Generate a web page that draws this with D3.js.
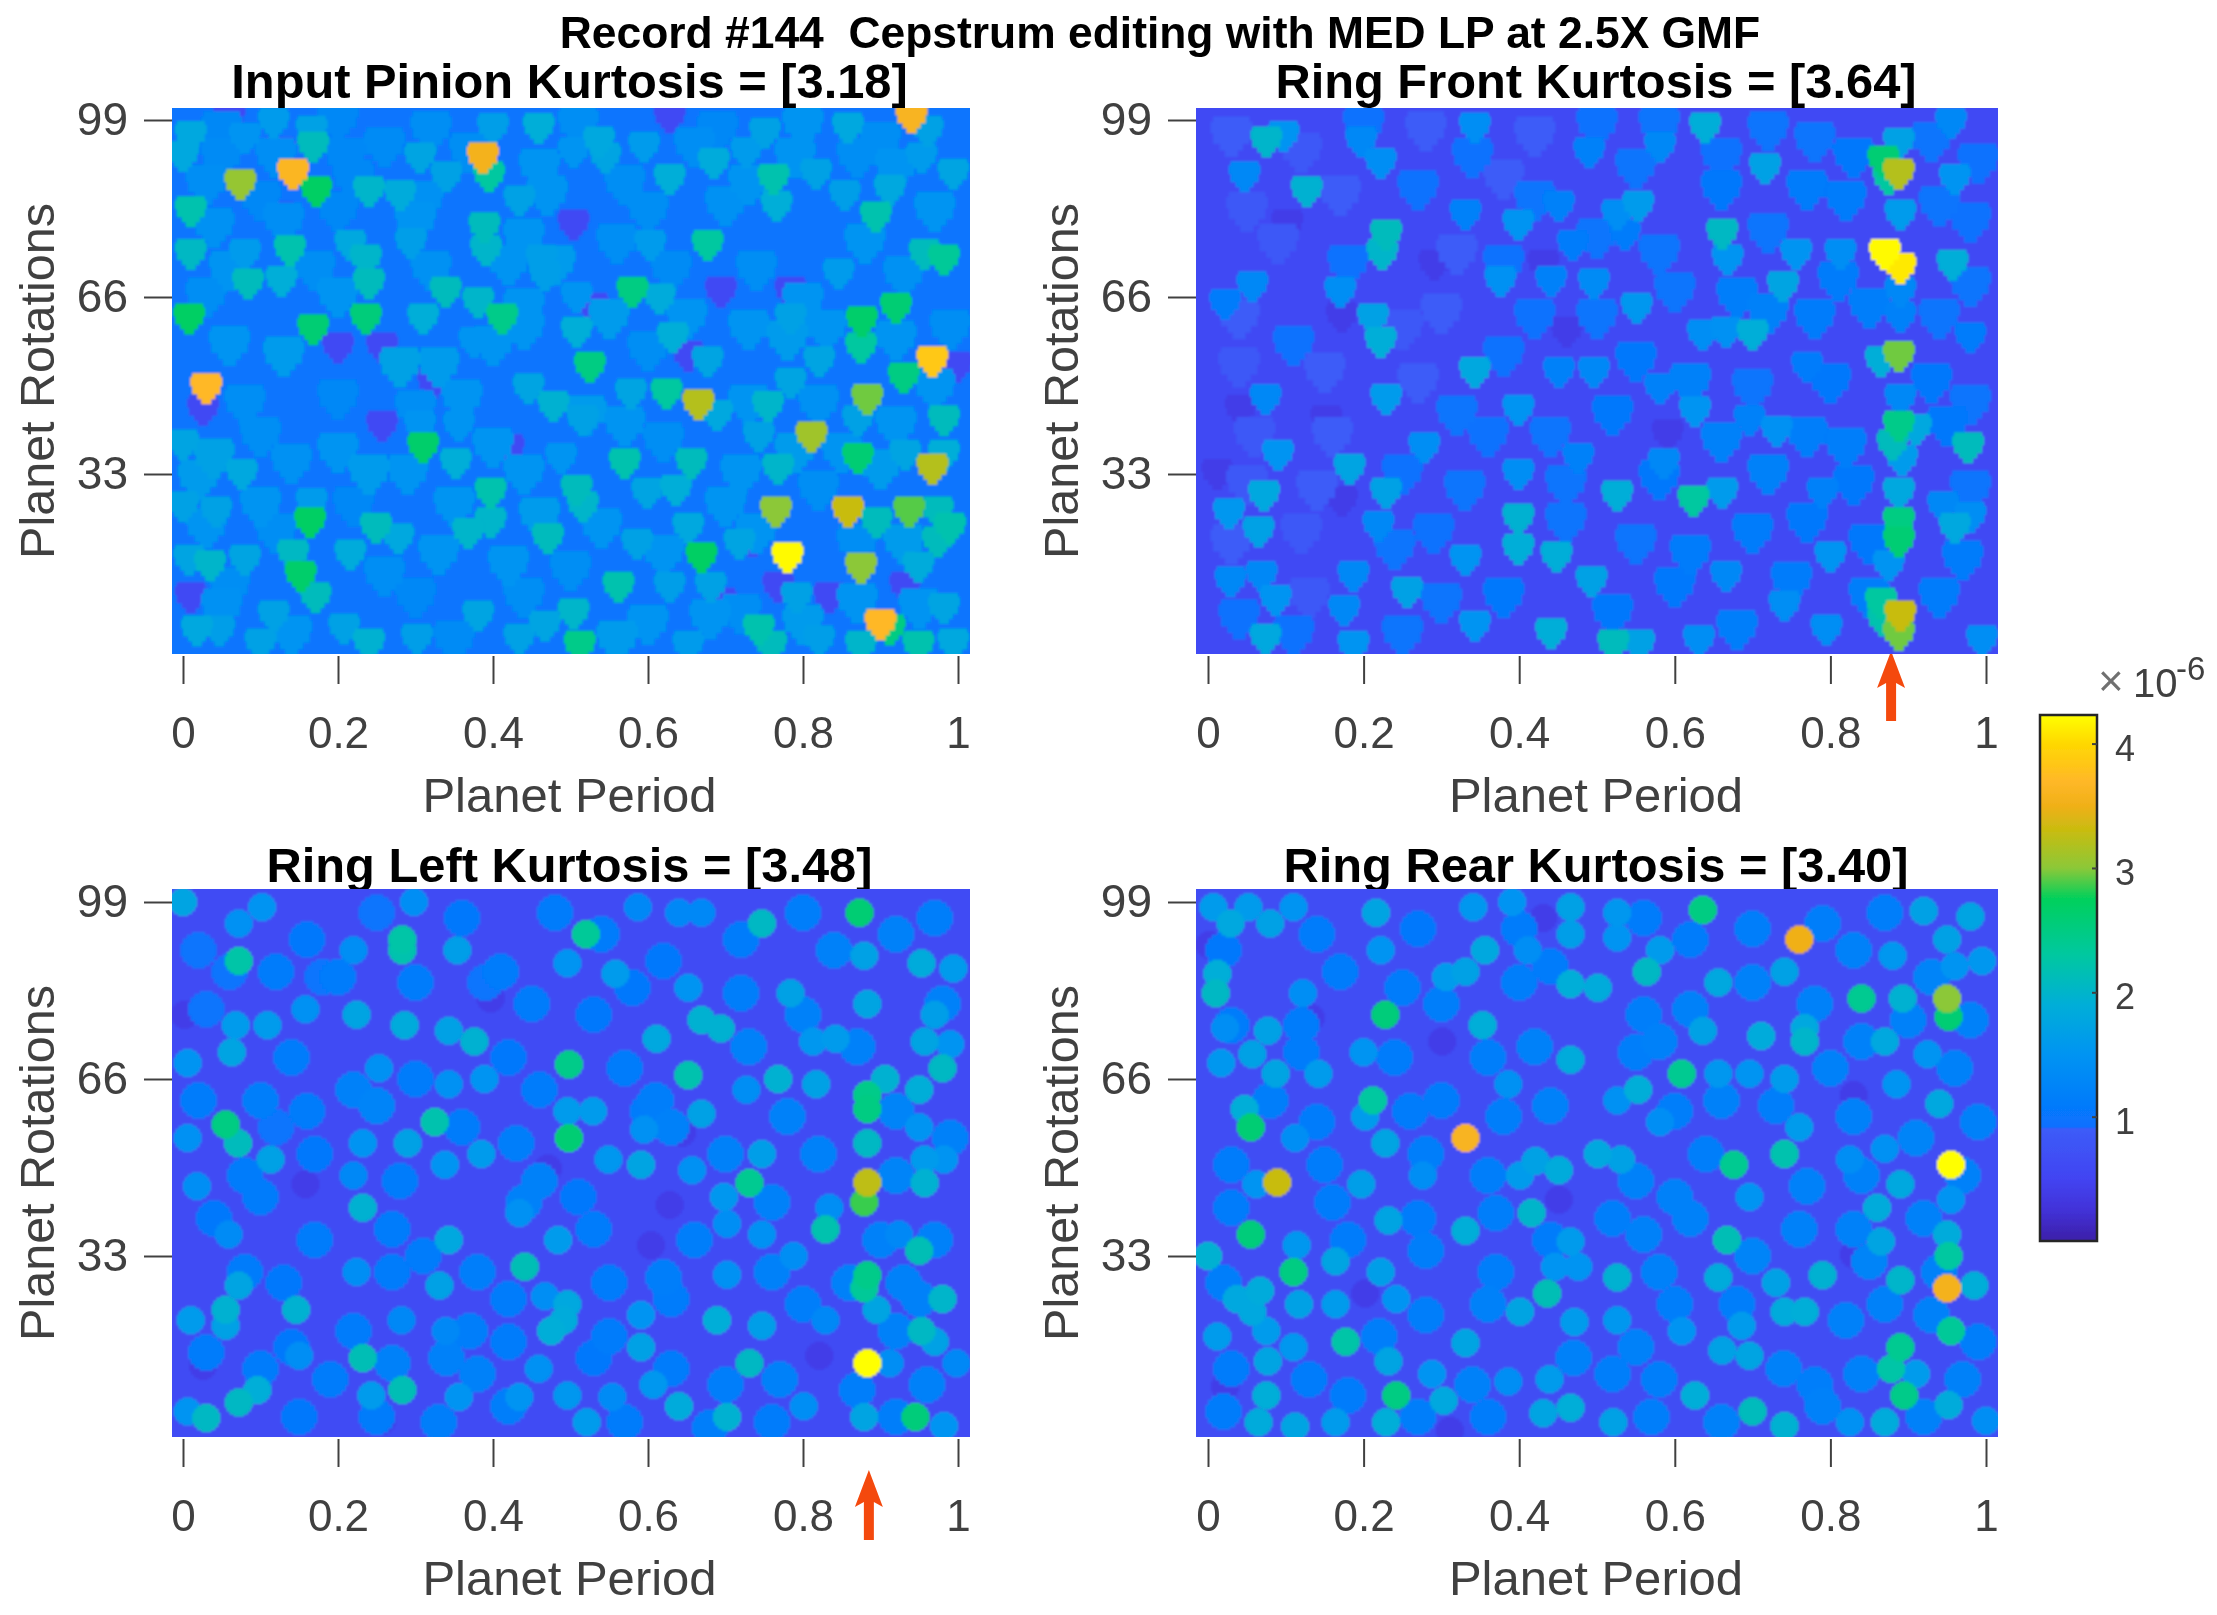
<!DOCTYPE html>
<html>
<head>
<meta charset="utf-8">
<script src="https://cdn.jsdelivr.net/npm/d3@7"></script>
<style>
  html, body { margin: 0; padding: 0; background: #fff; }
  svg { display: block; }
  text { font-family: "Liberation Sans", Arial, sans-serif; white-space: pre; }
</style>
</head>
<body>
<svg id="chart" width="2217" height="1615"></svg>
<script>
// Values: [planet period, planet rotations, amplitude x 1e-6]
var inputPinion = [
  [.94,99.5,3.6],[.142,89,3.65],[.387,92,3.55],[.074,87,3.05],[.172,85.7,2.7],[.03,49,3.7],[.967,54,3.85],[.665,46,3.2],
  [.811,40,3.1],[.883,47,2.95],[.967,34,3.2],[.858,26,3.3],[.765,26,3],[.937,26,2.9],[.78,17.5,4.2],[.875,15.5,3],
  [.9,5,3.7],[.669,17.5,2.7],[.164,24,2.7],[.152,14,2.65],[.31,38,2.65],[.008,62,2.7],[.236,62,2.55],[.168,60,2.6],
  [.412,62,2.45],[.58,67,2.5],[.876,61.5,2.65],[.92,64,2.6],[.871,36,2.6],[.525,53,2.5],[.93,51,2.5],[.512,1,2.45],[.395,88.5,2.3],
  [0,92.3,1.8],[.01,96,1.8],[.01,82,2.2],[.01,74,2.05],[.08,74,1.6],[.084,68.5,2.1],[.127,69,1.9],[.138,74.7,2.2],
  [.166,97,1.7],[.168,94,2.1],[.117,98.5,1.6],[.08,95.7,1.5],[.24,85.7,2],[.28,85,1.85],[.306,92,1.75],[.34,88.5,1.7],
  [.4,97.5,1.65],[.389,79,2.1],[.391,74.7,2],[.434,84,1.7],[.459,97.5,1.9],[.537,95,1.8],[.545,92,1.75],[.504,93,1.5],
  [.595,94,1.6],[.628,88,1.9],[.685,91,1.85],[.677,75.7,2.3],[.603,75.7,1.6],[.751,96.6,1.7],[.762,88,2.2],[.766,83,1.9],
  [.817,89,1.7],[.858,97.6,1.8],[.912,86,1.8],[.894,81,2.2],[.854,85,1.65],[.982,73,2.35],[.957,74,2.1],[.994,89,1.75],
  [.953,92,1.6],[.961,97,1.7],[.846,70.4,1.6],[.727,93,1.6],[.236,73,2],[.24,68.5,2.1],[.216,75.7,1.8],[.294,76,1.65],
  [.339,67,2.1],[.381,65,2],[.31,62,1.9],[.463,73,1.65],[.467,70,1.65],[.508,66,1.5],[.508,59.5,1.9],[.615,65.7,1.85],
  [.632,58.5,1.9],[.677,54,1.75],[.376,57.6,1.5],[.446,49,1.75],[.478,45.7,1.95],[.624,48,2.3],[.689,44,1.8],[.578,48,1.75],
  [.755,45.7,2],[.784,62,1.7],[.821,54,1.75],[.784,50,1.75],[.875,56.6,2.3],[.871,43,1.7],[.982,43,2.1],[.982,36.6,1.9],
  [.932,36.6,1.75],[.743,40,1.7],[.768,34,2],[.656,35,2.1],[.57,35,2.2],[.488,36,1.5],[.516,43,1.7],[.352,35,1.9],
  [.306,42,1.5],[.356,42,1.5],[.397,29.5,2.2],[.508,30,2.1],[.516,27,2],[.599,29.5,1.75],[.636,30,1.9],[.652,23,1.8],
  [.586,20,1.7],[.471,21,2.1],[.397,24,2],[.368,22,2],[.249,23,2.1],[.278,21,1.8],[.216,18,1.85],[.142,18,2.05],
  [.171,10,2.1],[.08,17,1.75],[.035,16,2],[.008,17,1.75],[.076,33,1.8],[.043,26,1.7],[0,38.5,1.75],[0,27,1.7],
  [.166,27.6,1.6],[.895,24,2.1],[.99,23,2.2],[.974,26,2.1],[.949,15.7,1.85],[.743,4,2.2],[.759,1,2.1],[.949,1,2.2],
  [.912,4,2.5],[.875,1,2],[.681,12,1.7],[.562,12,2.2],[.504,7,2],[.628,12,1.65],[.381,6.6,1.75],[.467,4.7,1.75],
  [.434,2.3,1.7],[.302,2.3,1.65],[.24,1.4,1.95],[.208,4.2,1.7],[.117,6.6,1.7],[.1,1.4,1.7],[.018,3.8,1.8],[.047,3.8,1.65],
  [.821,2,1.65],[.652,1,1.6],[.792,10,1.7],[.982,8,1.75],[.994,1.4,1.8],[.718,20,1.75],[.974,20.4,2.1],
  [.06,99.5,.6],[.026,45,.6],[.323,50,.6],[.257,42,.6],[.504,79.5,.6],[.998,53,.6],[.932,12,.6],[.735,20.5,.6],
  [.125,93,.6],[.125,81,.6],[.628,99.5,.6],[.768,12,.6],[.784,67,.6],[.257,56.6,.6],[.2,56.6,.6],[.529,64,.6],
  [.694,67,.6],[.652,55,.6],[.834,10,.6],[.01,10,.6],[.694,9,.6],[.42,37.6,.6]
];
var pinionPatches = [
  [.05,97,1.3],[.2,99,1.3],[.32,97,1.4],[.51,98,1.4],[.69,97,1.3],[.8,98,1.5],[.9,95,1.4],
  [.05,92,1.35],[.12,92,1.4],[.21,92,1.3],[.26,94,1.35],[.37,93,1.4],[.46,90,1.5],[.66,94,1.4],[.79,92,1.5],[.87,92,1.4],
  [.03,87,1.4],[.1,84,1.3],[.22,88,1.3],[.31,84,1.45],[.47,85,1.5],[.57,87,1.4],[.73,87,1.5],[.92,90,1.5],
  [.04,79,1.45],[.13,80,1.4],[.2,82,1.3],[.3,80,1.5],[.44,77,1.5],[.6,82,1.4],[.7,83,1.45],[.97,82,1.5],
  [.06,71,1.5],[.17,71,1.4],[.32,71,1.45],[.42,72,1.5],[.48,72,1.6],[.56,76,1.4],[.63,71,1.35],[.74,71,1.4],[.88,76,1.5],
  [.03,66,1.4],[.2,66,1.5],[.44,64,1.5],[.55,62,1.6],[.65,62,1.5],[.8,65,1.5],[.93,70,1.45],[.78,58,1.6],[.83,60,1.5],
  [.06,57,1.5],[.13,55,1.6],[.28,53,1.7],[.33,53,1.6],[.4,57,1.5],[.44,60,1.5],[.6,56,1.4],[.73,60,1.5],[.92,58,1.5],[.99,60,1.4],
  [.08,46,1.4],[.2,47,1.3],[.3,45,1.4],[.36,47,1.5],[.52,44,1.6],[.57,42,1.5],[.73,46,1.5],[.82,46,1.45],[.97,49,1.5],
  [.04,36,1.7],[.1,40,1.4],[.2,37,1.5],[.24,33,1.6],[.29,33,1.5],[.4,38,1.5],[.62,39,1.4],[.79,37,1.6],[.92,42,1.5],
  [.02,32,1.6],[.14,35,1.45],[.44,33,1.5],[.72,33,1.5],[.85,37,1.5],[.9,34,1.6],
  [.1,27,1.5],[.22,27,1.3],[.35,27,1.5],[.46,25,1.6],[.7,27,1.5],[.82,30,1.4],
  [.03,23,1.5],[.12,22,1.4],[.33,18,1.5],[.54,23,1.5],[.74,22,1.5],[.93,20,1.6],
  [.06,12,1.4],[.26,14,1.4],[.42,16,1.5],[.5,15,1.4],[.62,18,1.5],[.87,20,1.4],[.05,8,1.45],[.3,10,1.3],[.44,10,1.4],
  [.6,5,1.5],[.72,7,1.4],[.87,9,1.5],[.95,8,1.5],[.14,3,1.5],[.35,2,1.35],[.56,2,1.6],[.68,6,1.5],[.8,5,1.6]
];

var ringFront = [
  [.888,89,3.2],[.868,91.4,2.6],[.875,88,2.3],[.87,74,4.2],[.89,71.4,4.1],[.888,55,2.95],[.865,54,1.9],[.888,42,2.45],
  [.88,38.5,2.1],[.91,41.4,1.8],[.892,35.6,1.6],[.888,29.5,1.8],[.888,24,2.5],[.888,20.4,2.6],[.875,16,1.5],[.89,6.6,3.3],
  [.888,3,2.95],[.865,9,2.3],[.868,5.7,2.2],[.888,94.7,1.7],[.89,81.4,1.6],[.89,67,1.3],[.89,62.3,1.2],[.89,47,1.3],
  [.075,95,2],[.097,96,1.5],[.127,85.7,1.95],[.639,97.6,1.9],[.716,90,1.7],[.96,88,1.5],[.229,77.6,2.1],[.224,74,2],
  [.399,79.5,1.5],[.553,83,1.6],[.526,81.4,1.4],[.661,77.8,2.05],[.668,73,1.5],[.756,74,1.5],[.813,74,1.4],[.957,72,1.9],
  [.739,68,1.75],[.212,62,1.7],[.222,57.6,1.9],[.7,59,1.9],[.636,59,1.4],[.666,59.5,1.45],[.343,52,1.8],[.229,47,1.6],
  [.074,47,1.3],[.399,45,1.5],[.626,44.7,1.5],[.731,41,1.45],[.696,43,1.2],[.977,38,2.1],[.09,36.6,1.5],[.182,34,1.75],
  [.278,38,1.4],[.072,29,1.8],[.027,25.7,1.55],[.065,22.3,1.7],[.229,29.5,1.7],[.219,23.3,1.3],[.399,33,1.4],[.399,24.7,1.95],
  [.399,19,1.9],[.526,29,1.9],[.624,28,2.3],[.661,29.5,1.6],[.79,29.5,1.2],[.96,23,1.8],[.98,25,1.4],[.8,17.6,1.5],
  [.331,17,1.5],[.448,17.6,1.9],[.493,13,1.7],[.256,11,1.7],[.087,9.5,1.5],[.069,14,1.3],[.187,14,1.3],[.029,13,1.3],
  [.175,7.6,1.3],[.343,4.7,1.5],[.441,3.3,1.9],[.521,1.2,2.1],[.554,1.2,1.7],[.074,2.3,1.8],[.187,1,1.5],[.631,2,1.4],
  [.741,8.5,1.4],[.795,4,1.4],[.995,2,1.4],[.666,14,1.3],[.343,97.6,1.4],[.197,95,1.3],[.222,91,1.4],[.047,88.5,1.3],
  [.49,93,1.2],[.581,94,1.3],[.451,83,1.2],[.331,81.4,1.2],[.536,77.6,1.1],[.955,98.5,1.3],[.469,75.7,1.1],[.376,69,1.45],
  [.496,68.5,1.35],[.441,69,1.2],[.551,64,1.55],[.17,67,1.4],[.057,68,1.3],[.022,64.7,1.1],[.496,52,1.3],[.451,52,1.2],
  [.581,49,1.2],[.77,53,1.1],[.98,58.5,1.1],[.586,35,1.3],[.476,36,1.2],[.945,27,1.3],
  [.102,79.5,.4],[.172,62.3,.4],[.012,33,.4],[.172,28,.4],[.461,59.5,.4],[.591,40.4,.4],[.291,72,.4],[.042,45,.4],
  [.431,72,.4],[.152,43,.4]
];
var frontPatches = [
  [.03,96,.9],[.12,93,.85],[.2,98,.95],[.28,97,.9],[.34,92,.95],[.42,96,.9],[.5,98,.95],[.58,98,1],[.66,92,.95],[.72,97,1],[.78,95,1],[.83,92,1.05],[.93,95,1],[.99,91,.95],
  [.05,82,.85],[.17,85,.9],[.27,86,.95],[.38,88,.9],[.42,84,1],[.55,90,1],[.66,86,1.05],[.77,86,1.1],[.82,84,1.1],[.94,83,1],[.98,80,.95],
  [.09,76,.85],[.18,72,.95],[.32,74,.9],[.38,72,.95],[.5,77,1],[.58,74,1],[.68,66,1.15],[.72,78,1],[.81,69,1.1],[.98,68,1],
  [.04,62,.9],[.11,57,.95],[.25,60,.85],[.3,63,.9],[.42,62,.95],[.5,62,1],[.6,67,1],[.72,63,1.2],[.78,62,1.1],[.85,64,1.15],[.94,62,1],
  [.04,53,.85],[.15,52,.9],[.27,50,.9],[.38,55,.95],[.55,54,1.05],[.62,50,1.2],[.7,49,1],[.8,50,1.05],[.93,50,1.05],[.98,46,1],
  [.06,40,.85],[.16,40,.9],[.32,44,1],[.36,40,.95],[.44,40,1],[.52,44,1.05],[.66,39,1.2],[.77,40,1.15],[.82,38,1.15],[.95,42,1.05],
  [.05,31,.85],[.14,30,.9],[.25,33,.95],[.33,30,1],[.46,31,1],[.58,32,1.05],[.72,33,1.2],[.83,31,1.05],[.98,30,1],
  [.03,20,.9],[.12,22,.85],[.24,19,1],[.29,22,.95],[.46,24,1],[.55,20,1],[.62,18,1.1],[.7,22,1.1],[.77,24,1.05],[.85,20,1.05],[.97,17,1.1],
  [.04,6,.95],[.13,10,.85],[.25,3,1],[.3,9,1],[.38,10,1.05],[.52,7,1.05],[.6,12,1.05],[.68,4,1.15],[.75,13,1.1],[.85,10,1.15],[.94,10,1.1],[.11,3,.95]
];

var ringLeft = [
  [.883,13,4.23],[.883,46.7,3.25],[.879,43,2.85],[.873,97,2.6],[.883,63,2.45],[.883,60.4,2.5],[.883,29.4,2.45],[.879,27,2.35],
  [.945,3,2.55],[.498,68.7,2.45],[.498,55,2.6],[.52,93,2.35],[.055,57.5,2.5],[.071,54,2.1],[.072,88,2.25],[.283,92,2.25],
  [.283,90,2.2],[.731,46.6,2.4],[.829,38,2.2],[.441,31,2.15],[.325,58,2.2],[.652,66.7,2.2],[.747,95,2.05],[.232,14,2.15],
  [.283,8,2.15],[.072,5.7,2.05],[.03,2.8,2.05],[.731,13,2.05],[.95,34,2.15],[.953,19,2.05],[.98,68,2.05],[.98,25,2],[.883,54,2.05],
  [0,99,1.75],[.072,95,1.45],[.102,98,1.5],[.298,99,1.4],[.587,98,1.3],[.64,97,1.3],[.669,97,1.3],[.22,90,1.4],[.354,90,1.65],
  [.496,87.6,1.5],[.558,85.6,1.6],[.879,89,1.7],[.953,87.6,1.85],[.994,86.6,1.6],[.652,83,1.5],[.784,82,1.7],[.883,80,1.75],
  [.97,78,1.65],[.158,79,1.45],[.224,78,1.75],[.068,76,1.6],[.109,76,1.6],[.286,76,1.85],[.343,75,1.7],[.376,73,1.95],
  [.669,77,1.95],[.694,75.4,1.95],[.611,73.5,1.8],[.813,73,1.55],[.842,73.5,1.6],[.957,73,1.75],[.99,72.5,1.5],[.063,71,1.75],
  [.006,69,1.5],[.253,68,1.45],[.389,66,1.5],[.343,65,1.45],[.768,66,1.95],[.817,65,1.7],[.727,64,1.4],[.906,66,1.95],
  [.95,64,1.9],[.496,60,1.6],[.529,60,1.6],[.669,59.5,1.7],[.595,56.6,1.45],[.747,52,1.65],[.95,57,1.5],[.957,51,1.6],
  [.982,51,1.5],[.957,46.6,1.95],[.113,51,1.7],[.006,55,1.45],[.232,54,1.5],[.29,54,1.7],[.385,52,1.6],[.338,50,1.5],
  [.549,51,1.55],[.591,50,1.75],[.657,49,1.45],[.698,44,1.55],[.018,46,1.4],[.232,42,1.95],[.434,41,1.45],[.22,48,1.3],
  [.343,36,1.8],[.484,36,1.6],[.702,39,1.4],[.747,37,1.45],[.059,37,1.35],[.788,33,1.4],[.924,37,1.3],[.834,42,1.4],
  [.224,30,1.4],[.072,27.5,1.75],[.331,27.5,1.7],[.702,29.5,1.45],[.055,23,1.95],[.146,23,1.95],[.01,21,1.6],[.055,20,1.7],
  [.496,24,1.8],[.491,21,1.85],[.475,19,1.9],[.467,25.5,1.4],[.591,22,1.5],[.689,21,1.9],[.747,20,1.65],[.895,23,1.75],
  [.829,21,1.3],[.282,21,1.3],[.591,16,1.7],[.97,17,1.7],[.998,13,1.3],[.339,19,1.3],[.459,12,1.45],[.15,14.4,1.4],
  [.912,13,1.4],[.096,8,1.9],[.243,7,1.6],[.356,6.7,1.5],[.434,6.7,1.5],[.496,7,1.55],[.554,6.7,1.35],[.607,9,1.55],
  [.64,5,1.85],[.702,3,1.95],[.801,5,1.4],[.879,3,1.75],[.521,2,1.6],[.006,4,1.5],[.982,1.3,1.5],
  [.604,35,.4],[.821,14.4,.4],[.471,49.3,.4],[.158,46.4,.4],[.002,78,.4],[.257,2.3,.4],[.397,81,.4],[.644,56,.4],
  [.026,12.5,.4],[.628,42.5,.4]
];
var leftPatches = [
  [.02,90,1],[.06,86,1],[.16,92,1.05],[.12,86,1.1],[.2,85,1.1],[.25,97,1],[.36,96,1.05],[.41,86,1.1],[.48,97,1.1],[.54,93,1.1],[.62,88,1.05],[.72,92,1.1],[.8,97,1.15],[.84,90,1.2],[.92,93,1.2],[.97,96,1.15],
  [.03,79,1],[.14,70,1.1],[.18,85,1],[.3,84,1.1],[.39,84,1],[.45,80,1.1],[.53,78,1.05],[.58,83,1.05],[.72,82,1.15],[.8,78,1.2],[.87,72,1.2],[.98,80,1.2],
  [.02,62,1.1],[.1,62,1.15],[.16,60,1.1],[.22,64,1.2],[.25,61,1.25],[.3,66,1.1],[.42,70,1.05],[.46,64,1.1],[.57,68,1.1],[.61,62,1.15],[.73,72,1.2],[.78,59,1.2],[.92,60,1.25],
  [.08,48,1.1],[.12,57,1],[.17,52,1.05],[.28,47,1.1],[.36,57,1.1],[.43,54,1.15],[.51,44,1.05],[.6,60,1.1],[.63,57,1.2],[.7,52,1.2],[.82,52,1.2],[.92,48,1.25],[.99,55,1.2],
  [.04,40,1.05],[.1,44,1.1],[.17,36,1.1],[.27,38,1.1],[.31,33,1.1],[.44,43,1.2],[.46,47,1.2],[.53,38,1.1],[.66,36,1.15],[.76,43,1.2],[.9,36,1.2],[.97,36,1.2],
  [.08,30,1.1],[.13,28,1.05],[.27,30,1.1],[.38,30,1.15],[.42,25,1.1],[.55,28,1.1],[.62,29,1.15],[.76,30,1.2],[.86,28,1.2],[.93,28,1.2],
  [.03,15,1.1],[.14,16,1.05],[.22,19,1.1],[.34,14,1.2],[.37,19,1.15],[.42,17,1.1],[.55,18,1.1],[.63,25,1.1],[.8,24,1.15],[.95,25,1.2],[.92,19,1.2],
  [.1,12,1.1],[.19,10,1.1],[.27,13,1.2],[.38,11,1.2],[.42,5,1.15],[.53,14,1.05],[.63,12,1.1],[.7,9,1.15],[.77,10,1.2],[.87,8,1.15],[.96,9,1.2],
  [.15,3,1.05],[.25,3,1.1],[.33,2,1.15],[.57,2,1.1],[.68,1,1.15],[.76,2,1.1],[.92,3,1.15]
];

var ringRear = [
  [.955,50,4.23],[.76,92,3.5],[.95,81,3],[.952,77.6,2.6],[.331,55,3.6],[.089,46.7,3.3],[.95,27,3.55],[.636,97.5,2.5],
  [.228,78,2.55],[.609,67,2.4],[.055,57,2.6],[.055,37,2.55],[.11,30,2.5],[.242,7,2.5],[.676,50,2.4],[.741,52,2.2],
  [.955,19,2.35],[.952,33,2.3],[.89,16,2.4],[.878,12,2.25],[.895,7,2.45],[.84,81,2.4],[.177,17,2.25],[.212,62,2.3],
  [.667,36,2.15],[.893,81,1.95],[.436,26,2.15],[.7,4,2.1],
  [0,33,1.95],[.029,95,1.8],[.08,95,1.7],[.007,98,1.6],[.052,98,1.6],[.11,98,1.5],[.216,97,1.75],[.341,98,1.55],[.391,99,1.5],
  [.466,98,1.7],[.466,93,1.65],[.526,97,1.55],[.526,92.4,1.5],[.356,90,1.8],[.581,90,1.6],[.564,86,2.05],[.411,90,1.4],
  [.222,90,1.5],[.012,85.6,1.9],[.01,82,2.05],[.306,85,1.6],[.331,86,1.7],[.466,83.7,1.9],[.501,83,1.85],[.656,84,1.8],
  [.741,86,1.7],[.88,89,1.55],[.92,97.3,1.7],[.98,96.3,1.75],[.95,92,1.7],[.995,88,1.55],[.96,87,1.5],[.122,82,1.4],
  [.353,76,1.9],[.636,75,1.7],[.711,74,1.85],[.767,73,2],[.767,75.5,1.8],[.87,73,1.8],[.925,70.6,1.5],[.017,69,1.55],
  [.022,75.5,1.4],[.077,75,1.7],[.057,70.6,1.7],[.087,67,1.75],[.142,67,1.6],[.2,71,1.5],[.466,69.6,1.85],[.656,67,1.55],
  [.696,67,1.5],[.741,66,1.6],[.386,65,1.45],[.553,64,1.9],[.526,62,1.45],[.885,65,1.5],[.94,61.4,1.8],[.047,60.4,1.9],
  [.202,59,1.6],[.228,54,1.75],[.581,58,1.4],[.76,57,1.6],[.87,53,1.45],[.825,51,1.4],[.112,55,1.4],[.421,50.7,1.7],
  [.451,49,1.85],[.501,52,1.8],[.531,51,1.7],[.401,48,1.6],[.276,48,1.4],[.197,46.4,1.65],[.062,46.4,1.5],[.89,46.4,1.8],
  [.86,42,1.85],[.955,43.5,1.5],[.696,44,1.5],[.416,41,2],[.232,39.6,1.75],[.331,37.7,1.9],[.466,35.7,1.6],[.865,35.7,1.75],
  [.95,37,1.85],[.114,35,1.55],[.164,32,1.75],[.222,30,1.65],[.526,29,1.95],[.476,31,1.5],[.446,31,1.5],[.656,29,1.85],
  [.79,29.4,1.95],[.89,28.5,2],[.985,27.5,1.9],[.73,28,1.7],[.067,26.5,1.85],[.037,25,1.8],[.057,22.6,1.8],[.117,24,1.7],
  [.164,24,1.6],[.242,25,1.5],[.401,22.6,1.75],[.471,20.7,1.6],[.526,21,1.55],[.741,22.6,1.85],[.767,22.6,1.9],[.686,20,1.6],
  [.609,19,1.5],[.012,18,1.6],[.075,19,1.6],[.11,16,1.55],[.077,13.4,1.75],[.232,13.4,1.75],[.331,16.8,1.75],[.661,15.4,1.7],
  [.696,14.4,1.75],[.91,11,1.6],[.288,11,1.5],[.439,10,1.6],[.386,9.6,1.4],[.075,7,1.9],[.626,7,1.9],[.303,6,1.8],
  [.466,4.7,1.9],[.431,3.7,1.75],[.952,5.2,1.85],[.065,2,1.85],[.112,1.2,1.75],[.164,2,1.6],[.229,2,1.9],[.521,2,1.7],
  [.741,1.3,1.95],[.825,2,1.45],[.87,2,1.85],[1,2.3,1.4],
  [.311,.4,.4],[.431,96,.4],[.301,73,.4],[.202,26,.4],[.83,33.3,.4],[.83,63,.4],[.451,43.5,.4],[.132,77.4,.4],
  [.002,91,.4],[.022,8.6,.4]
];
var rearPatches = [
  [.02,90,1.05],[.14,93,1.1],[.17,86,1.1],[.27,94,1.05],[.3,80,1.15],[.4,94,1.1],[.44,87,1.1],[.56,96,1.1],[.62,92,1.1],[.7,94,1.15],[.79,95,1.15],[.83,90,1.2],[.87,97,1.15],[.93,85,1.25],
  [.03,76,1.1],[.12,76,1.1],[.25,83,1.1],[.4,84,1.15],[.56,78,1.15],[.62,79,1.2],[.7,84,1.2],[.78,80,1.2],[.84,73,1.2],[.9,77,1.2],[.98,77,1.2],
  [.12,71,1.1],[.24,70,1.1],[.3,62,1.1],[.36,70,1.15],[.42,72,1.2],[.55,71,1.15],[.58,73,1.2],[.8,68,1.2],[.96,68,1.2],
  [.08,62,1.15],[.14,58,1.1],[.26,60,1.1],[.38,59,1.15],[.44,61,1.2],[.6,60,1.15],[.66,62,1.2],[.73,61,1.15],[.83,59,1.2],[.91,55,1.25],[.99,58,1.2],
  [.03,50,1.1],[.15,50,1.1],[.28,52,1.15],[.36,48,1.15],[.55,47,1.2],[.6,44,1.2],[.64,52,1.15],[.77,46,1.2],[.84,48,1.2],[.97,48,1.2],
  [.03,42,1.1],[.16,43,1.1],[.27,40,1.1],[.37,41,1.15],[.52,40,1.15],[.56,37,1.2],[.62,40,1.2],[.76,38,1.2],[.83,38,1.2],[.92,40,1.2],
  [.02,28,1.15],[.18,36,1.1],[.28,34,1.15],[.37,30,1.15],[.44,36,1.1],[.58,30,1.2],[.7,33,1.25],[.85,32,1.25],[.94,30,1.2],
  [.22,18,1.15],[.28,22,1.15],[.36,24,1.2],[.47,14,1.2],[.55,16,1.2],[.6,24,1.15],[.68,24,1.15],[.82,21,1.2],[.87,24,1.2],[.93,22,1.2],[.99,17,1.15],
  [.03,12,1.1],[.13,10,1.1],[.18,7,1.1],[.34,9,1.2],[.52,11,1.15],[.58,10,1.15],[.74,12,1.2],[.78,9,1.15],[.84,11,1.2],[.97,10,1.2],
  [.02,4,1.1],[.27,3,1.15],[.36,3,1.1],[.57,3,1.15],[.66,2,1.2],[.79,5,1.2],[.92,3,1.2]
];

var periodTicks = [0, 0.2, 0.4, 0.6, 0.8, 1];
var rotationTicks = [33, 66, 99];
var colorTicks = [1, 2, 3, 4];
var colorDomain = [0, .25, .5, .9, .92, 1.5, 1.9, 2.3, 2.75, 3, 3.3, 3.5, 3.7, 4, 4.23];
var colorStops = ['#3c1fa8', '#4232d8', '#4244f2', '#3c5cf8', '#0870ff', '#0094f2', '#00aed8', '#00c8a0', '#00d05c',
  '#8cc838', '#c8bc10', '#f0b018', '#ffb828', '#ffd800', '#ffff00'];

var color = d3.scaleLinear().domain(colorDomain).range(colorStops);

// marker outlines: the top row is a blocky shield with a short stub, the bottom row a jagged disc
var shieldOutline = [[-14,-15],[14,-15],[14,-11],[16,-11],[16,-2],[14,-2],[14,6],[9,6],[9,11],[5,11],[5,16],[-5,16],[-5,11],[-9,11],[-9,6],[-14,6],[-14,-2],[-16,-2],[-16,-11],[-14,-11]];
var discOutline = [[-5,-14],[5,-14],[5,-12],[9,-12],[9,-9],[12,-9],[12,-5],[14,-5],[14,5],[12,5],[12,9],[9,9],[9,12],[5,12],[5,14],[-5,14],[-5,12],[-9,12],[-9,9],[-12,9],[-12,5],[-14,5],[-14,-5],[-12,-5],[-12,-9],[-9,-9],[-9,-12],[-5,-12]];
var patchScale = 1.3;

function outlineType(outline) {
  return {
    draw: function(context) {
      outline.forEach(function(p, i) {
        if (i === 0) context.moveTo(p[0], p[1]); else context.lineTo(p[0], p[1]);
      });
      context.closePath();
    }
  };
}

var panels = [
  {id: 'p0', title: 'Input Pinion Kurtosis = [3.18]', points: inputPinion, patches: pinionPatches, base: .98, outline: shieldOutline,
   left: 172, right: 970, top: 108, bottom: 654, x0: 183, x1: 958, y0: 651, y99: 120, titleY: 98},
  {id: 'p1', title: 'Ring Front Kurtosis = [3.64]', points: ringFront, patches: frontPatches, base: .6, outline: shieldOutline, arrow: .878,
   left: 1196, right: 1998, top: 108, bottom: 654, x0: 1208, x1: 1986, y0: 651, y99: 120, titleY: 98},
  {id: 'p2', title: 'Ring Left Kurtosis = [3.48]', points: ringLeft, patches: leftPatches, base: .62, outline: discOutline, arrow: .885,
   left: 172, right: 970, top: 889, bottom: 1437, x0: 183, x1: 958, y0: 1433, y99: 902, titleY: 882},
  {id: 'p3', title: 'Ring Rear Kurtosis = [3.40]', points: ringRear, patches: rearPatches, base: .65, outline: discOutline,
   left: 1196, right: 1998, top: 889, bottom: 1437, x0: 1208, x1: 1986, y0: 1433, y99: 902, titleY: 882}
];

var svg = d3.select('#chart');
var defs = svg.append('defs');
defs.append('filter').attr('id', 'soft').append('feGaussianBlur').attr('stdDeviation', 1);
defs.append('filter').attr('id', 'softText').append('feGaussianBlur').attr('stdDeviation', 0.5);

var root = svg.append('g').attr('filter', 'url(#softText)');

root.append('text')
  .attr('x', 1160).attr('y', 48)
  .attr('text-anchor', 'middle')
  .style('font-size', '44.4px').style('font-weight', 'bold')
  .text('Record #144  Cepstrum editing with MED LP at 2.5X GMF');

function styleAxis(g, fontSize) {
  g.select('.domain').remove();
  g.selectAll('line').attr('stroke', '#404040').attr('stroke-width', 2);
  g.selectAll('text').attr('fill', '#404040').style('font-size', fontSize + 'px');
}

panels.forEach(function(cfg) {
  var x = d3.scaleLinear().domain([0, 1]).range([cfg.x0, cfg.x1]);
  var y = d3.scaleLinear().domain([0, 99]).range([cfg.y0, cfg.y99]);
  var symbol = d3.symbol().type(outlineType(cfg.outline));

  defs.append('clipPath').attr('id', 'clip-' + cfg.id)
    .append('rect')
    .attr('x', cfg.left).attr('y', cfg.top)
    .attr('width', cfg.right - cfg.left).attr('height', cfg.bottom - cfg.top);

  var plot = svg.append('g').attr('clip-path', 'url(#clip-' + cfg.id + ')')
    .append('g').attr('filter', 'url(#soft)');

  plot.append('rect')
    .attr('x', cfg.left - 5).attr('y', cfg.top - 5)
    .attr('width', cfg.right - cfg.left + 10).attr('height', cfg.bottom - cfg.top + 10)
    .attr('fill', color(cfg.base));

  // low values first so the bright spots stay on top
  var sorted = cfg.points.concat(cfg.patches).sort(function(a, b) { return a[2] - b[2]; });
  plot.selectAll('path')
    .data(sorted)
    .join('path')
    .attr('d', symbol)
    .attr('transform', function(d) {
      var k = cfg.patches.indexOf(d) >= 0 ? patchScale : 1;
      return 'translate(' + x(d[0]) + ',' + y(d[1]) + ') scale(' + k + ')';
    })
    .attr('fill', function(d) { return color(d[2]); });

  root.append('g')
    .attr('transform', 'translate(0,' + (cfg.bottom + 2) + ')')
    .call(d3.axisBottom(x).tickValues(periodTicks).tickFormat(function(d) { return d; }).tickSize(28).tickPadding(33))
    .call(styleAxis, 44);

  root.append('g')
    .attr('transform', 'translate(' + cfg.left + ',0)')
    .call(d3.axisLeft(y).tickValues(rotationTicks).tickSize(28).tickPadding(16))
    .call(styleAxis, 46);

  root.append('text')
    .attr('x', (cfg.x0 + cfg.x1) / 2 - 1).attr('y', cfg.titleY)
    .attr('text-anchor', 'middle')
    .style('font-size', '48.8px').style('font-weight', 'bold')
    .text(cfg.title);

  root.append('text')
    .attr('x', (cfg.x0 + cfg.x1) / 2 - 1).attr('y', cfg.bottom + 158)
    .attr('text-anchor', 'middle')
    .attr('fill', '#404040')
    .style('font-size', '49px')
    .text('Planet Period');

  root.append('text')
    .attr('transform', 'translate(' + (cfg.left - 118) + ',' + ((cfg.top + cfg.bottom) / 2) + ') rotate(-90)')
    .attr('text-anchor', 'middle')
    .attr('fill', '#404040')
    .style('font-size', '48.5px')
    .text('Planet Rotations');

  if (cfg.arrow !== undefined) {
    var ax = x(cfg.arrow);
    var tip = cfg.bottom + (cfg.id === 'p1' ? -3 : 33);
    root.append('path')
      .attr('d', d3.line()([[ax, tip], [ax + 14, tip + 37], [ax + 5, tip + 32], [ax + 5, tip + 70], [ax - 5, tip + 70], [ax - 5, tip + 32], [ax - 14, tip + 37]]) + 'Z')
      .attr('fill', '#f4490f');
  }
});

// colour bar
var barLeft = 2040, barRight = 2097;
var barScale = d3.scaleLinear().domain([0, 4.23]).range([1241, 715]);
var gradient = defs.append('linearGradient').attr('id', 'bar')
  .attr('x1', 0).attr('y1', 1).attr('x2', 0).attr('y2', 0);
colorDomain.forEach(function(v, i) {
  gradient.append('stop').attr('offset', v / 4.23).attr('stop-color', colorStops[i]);
});
root.append('rect')
  .attr('x', barLeft).attr('y', barScale(4.23))
  .attr('width', barRight - barLeft).attr('height', barScale(0) - barScale(4.23))
  .attr('fill', 'url(#bar)')
  .attr('stroke', '#262626').attr('stroke-width', 2.5);

root.append('g')
  .attr('transform', 'translate(' + barRight + ',0)')
  .call(d3.axisRight(barScale).tickValues(colorTicks).tickSize(-5).tickPadding(18).tickFormat(d3.format('d')))
  .call(styleAxis, 36)
  .call(function(g) { g.selectAll('text').attr('dy', '0.46em'); });

root.append('text').attr('x', 2098).attr('y', 696).attr('fill', '#707070').style('font-size', '44px').text('\u00d7');
root.append('text').attr('x', 2133).attr('y', 697).attr('fill', '#404040').style('font-size', '40px').text('10');
root.append('text').attr('x', 2176).attr('y', 680).attr('fill', '#404040').style('font-size', '33px').text('-6');
</script>
</body>
</html>
